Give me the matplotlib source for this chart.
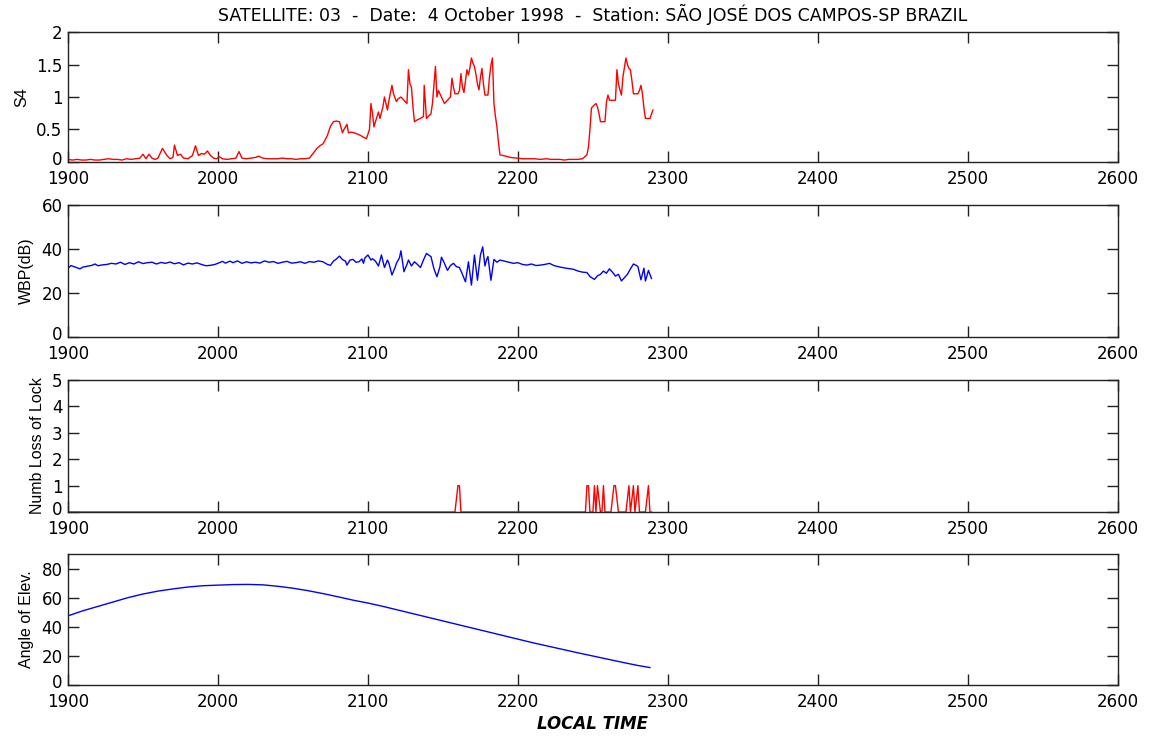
#!/usr/bin/python3
# Scintillation S4 / WBP / loss of lock / elevation, satellite 03, 4 Oct 1998

import numpy as np
import matplotlib.pyplot as plt
import matplotlib.transforms as mtransforms

plt.rcParams['font.family'] = ['DejaVu Sans']

# --- S4 index ---
s4_t = [1900, 1903, 1906, 1909, 1912, 1915, 1918, 1921, 1924, 1927, 1930, 1933, 1936, 1939,
        1942, 1945, 1948, 1950, 1952, 1954, 1956, 1958, 1960, 1963, 1966, 1968, 1970, 1971,
        1973, 1975, 1977, 1980, 1983, 1985, 1987, 1989, 1991, 1993, 1995, 1997, 1999, 2001,
        2003, 2006, 2009, 2012, 2014, 2016, 2019, 2022, 2025, 2027, 2030, 2033, 2036, 2040,
        2043, 2046, 2049, 2052, 2055, 2058, 2061, 2063, 2066, 2068, 2070, 2071, 2073, 2075,
        2077, 2079, 2081, 2083, 2084, 2086, 2087, 2089, 2092, 2095, 2097, 2099, 2101, 2102,
        2103, 2104, 2105, 2107, 2108, 2110, 2111, 2113, 2114, 2116, 2117, 2119, 2120, 2122,
        2124, 2126, 2127, 2128, 2129, 2130, 2131, 2133, 2135, 2137, 2137.5, 2139, 2141, 2142,
        2143, 2145, 2146, 2147, 2148, 2150, 2151, 2153, 2155, 2156, 2157, 2158, 2160, 2161,
        2162, 2163, 2164, 2166, 2167, 2168, 2169, 2170, 2171, 2172, 2173, 2174, 2175, 2176,
        2177, 2178, 2180, 2181, 2182, 2183, 2184, 2185, 2186, 2187, 2188, 2190, 2192, 2195,
        2199, 2203, 2207, 2211, 2215, 2219, 2222, 2225, 2228, 2231, 2234, 2237, 2240, 2243,
        2245, 2246, 2247, 2248, 2249, 2251, 2252, 2253, 2254, 2255, 2258, 2259, 2260, 2261,
        2263, 2265, 2266, 2267, 2268, 2269, 2270, 2271, 2272, 2273, 2274, 2275, 2276, 2277,
        2280, 2281, 2282, 2283, 2284, 2285, 2288, 2290]
s4_v = [0.04, 0.03, 0.04, 0.03, 0.03, 0.04, 0.03, 0.03, 0.04, 0.05, 0.04, 0.04, 0.03, 0.05,
        0.04, 0.05, 0.06, 0.12, 0.05, 0.12, 0.06, 0.04, 0.06, 0.21, 0.10, 0.05, 0.07, 0.26,
        0.10, 0.12, 0.06, 0.05, 0.10, 0.25, 0.10, 0.13, 0.12, 0.17, 0.10, 0.06, 0.05, 0.08,
        0.05, 0.04, 0.05, 0.06, 0.16, 0.06, 0.05, 0.06, 0.07, 0.09, 0.06, 0.05, 0.05, 0.05,
        0.06, 0.05, 0.05, 0.04, 0.05, 0.05, 0.06, 0.12, 0.21, 0.25, 0.28, 0.32, 0.41, 0.55,
        0.62, 0.63, 0.62, 0.45, 0.50, 0.58, 0.45, 0.46, 0.44, 0.41, 0.38, 0.36, 0.50, 0.90,
        0.75, 0.54, 0.62, 0.77, 0.67, 0.85, 1.00, 0.80, 0.95, 1.18, 1.05, 0.93, 0.97, 1.00,
        0.95, 0.90, 1.42, 1.20, 1.15, 0.85, 0.62, 0.65, 0.67, 0.70, 1.18, 0.67, 0.72, 0.74,
        0.90, 1.47, 1.00, 1.10, 1.05, 0.95, 0.90, 0.95, 1.00, 1.29, 1.15, 1.05, 1.05, 1.10,
        1.36, 1.15, 1.07, 1.42, 1.34, 1.45, 1.60, 1.52, 1.47, 1.35, 1.20, 1.11, 1.30, 1.44,
        1.20, 1.03, 1.03, 1.30, 1.49, 1.60, 0.90, 0.70, 0.54, 0.30, 0.11, 0.10, 0.09, 0.07,
        0.06, 0.05, 0.05, 0.05, 0.04, 0.05, 0.04, 0.04, 0.04, 0.03, 0.04, 0.04, 0.04, 0.05,
        0.09, 0.11, 0.23, 0.50, 0.83, 0.88, 0.90, 0.85, 0.75, 0.62, 0.62, 0.92, 1.03, 0.95,
        0.95, 0.95, 1.42, 1.20, 1.11, 1.03, 1.31, 1.45, 1.60, 1.50, 1.44, 1.42, 1.25, 1.05,
        1.05, 1.10, 1.18, 1.05, 0.83, 0.67, 0.67, 0.80]

# --- WBP (dB) ---
wbp_t = [1900, 1902, 1904, 1906, 1908, 1910, 1913, 1916, 1918, 1920, 1923, 1926, 1929, 1932,
         1935, 1938, 1941, 1944, 1947, 1950, 1953, 1956, 1959, 1962, 1965, 1968, 1971, 1974,
         1977, 1980, 1983, 1986, 1989, 1992, 1995, 1998, 2001, 2003, 2005, 2008, 2010, 2013,
         2016, 2019, 2022, 2025, 2028, 2031, 2034, 2037, 2040, 2043, 2046, 2049, 2052, 2055,
         2058, 2061, 2064, 2067, 2070, 2073, 2075, 2077, 2079, 2081, 2083, 2085, 2086, 2088,
         2090, 2092, 2094, 2096, 2097, 2098, 2100, 2102, 2103, 2105, 2107, 2109, 2111, 2113,
         2114, 2116, 2118, 2119, 2121, 2122, 2124, 2126, 2127, 2129, 2131, 2133, 2135, 2137,
         2139, 2141, 2142, 2144, 2146, 2148, 2149, 2151, 2153, 2155, 2157, 2159, 2161, 2163,
         2165, 2167, 2169, 2171, 2173, 2175, 2176.5, 2178, 2179, 2180, 2182, 2184, 2186, 2188,
         2191, 2194, 2197, 2200, 2203, 2206, 2209, 2212, 2215, 2218, 2221, 2224, 2228, 2232,
         2237, 2240, 2243, 2246, 2248, 2251, 2253, 2255, 2257, 2259, 2261, 2263, 2265, 2267,
         2269, 2271, 2273, 2275, 2277, 2279, 2280, 2282, 2284, 2285, 2287, 2289]
wbp_v = [31.2, 32.5, 32.0, 31.5, 31.0, 31.8, 32.2, 32.6, 33.2, 32.4, 32.8, 33.0, 33.5, 33.2,
         34.0, 33.0, 33.8, 33.2, 34.2, 33.4, 33.8, 34.0, 33.2, 33.9, 33.5, 34.1, 33.3, 33.8,
         32.8, 33.6, 33.2, 33.7, 33.0, 32.4, 32.6, 33.0, 33.8, 34.4, 33.6, 34.5, 33.8, 34.6,
         33.5, 34.2, 33.7, 34.0, 33.6, 34.6, 34.0, 34.3, 33.5, 34.0, 34.4, 33.6, 33.8, 34.2,
         33.5, 34.3, 34.0, 34.6, 34.2, 33.0, 32.6, 34.5, 35.5, 36.8, 35.2, 34.5, 32.7, 35.0,
         35.3, 34.0, 34.2, 35.5, 33.5, 36.0, 37.3, 35.0, 35.6, 34.5, 32.3, 37.3, 31.6, 35.0,
         33.5, 28.2, 31.5, 33.5, 36.0, 39.2, 29.7, 33.0, 35.0, 32.3, 34.2, 33.0, 31.6, 35.0,
         38.0, 37.0, 36.6, 31.0, 27.4, 32.0, 36.3, 33.5, 30.3, 32.5, 33.5, 32.0, 31.6, 28.5,
         25.1, 34.2, 23.6, 37.3, 25.8, 37.3, 41.0, 32.3, 35.0, 36.6, 25.8, 35.3, 34.0, 35.0,
         34.5, 34.0, 33.5, 33.8, 33.0, 32.7, 33.2, 32.5, 32.7, 33.0, 33.5, 32.5, 31.8, 31.3,
         30.8, 30.0, 29.5, 29.3, 27.5, 26.2, 27.8, 28.5, 30.0, 29.0, 31.0, 29.5, 27.7, 28.5,
         25.5, 27.0, 28.5, 31.0, 33.2, 32.5, 32.0, 26.0, 31.3, 25.5, 30.3, 26.6]

# --- number of losses of lock ---
lock_t = [1900, 2158, 2160, 2161, 2162, 2163, 2245, 2246, 2247, 2248, 2250, 2251, 2252, 2253,
          2255, 2256, 2257, 2258, 2260, 2262, 2264, 2265, 2267, 2272, 2274, 2275, 2277, 2278,
          2280, 2281, 2283, 2285, 2287, 2288, 2289]
lock_v = [0, 0, 1, 1, 0, 0, 0, 1, 1, 0, 0, 1, 0, 1,
          0, 0, 1, 0, 0, 0, 1, 1, 0, 0, 1, 0, 1, 0,
          1, 0, 0, 0, 1, 0, 0]

# --- elevation angle (deg) ---
elev_t = [1900, 1910, 1920, 1930, 1940, 1950, 1960, 1970, 1980, 1990, 2000, 2010, 2020, 2030,
          2040, 2050, 2060, 2070, 2080, 2090, 2100, 2110, 2120, 2130, 2140, 2150, 2160, 2170,
          2180, 2190, 2200, 2210, 2220, 2230, 2240, 2250, 2260, 2270, 2280, 2288]
elev_v = [47.5, 51.0, 54.0, 57.0, 60.0, 62.5, 64.5, 66.0, 67.3, 68.2, 68.6, 69.0, 69.1, 68.8,
          67.8, 66.5, 64.8, 62.8, 60.6, 58.3, 56.3, 54.0, 51.5, 49.0, 46.5, 44.0, 41.5, 39.0,
          36.5, 34.0, 31.5, 29.0, 26.7, 24.4, 22.1, 19.9, 17.7, 15.5, 13.4, 12.0]

xticks = [1900, 2000, 2100, 2200, 2300, 2400, 2500, 2600]

fig = plt.figure(figsize=(11.5, 7.36), dpi=100)

panels = [
    (0.7799, 0.1766, s4_t, s4_v, 'red', 'S4', (0, 2), [0, 0.5, 1, 1.5, 2], ['0', '0.5', '1', '1.5', '2']),
    (0.5421, 0.1793, wbp_t, wbp_v, 'blue', 'WBP(dB)', (0, 60), [0, 20, 40, 60], None),
    (0.3043, 0.1793, lock_t, lock_v, 'red', 'Numb Loss of Lock', (0, 5), [0, 1, 2, 3, 4, 5], None),
    (0.0693, 0.1780, elev_t, elev_v, 'blue', 'Angle of Elev.', (0, 90), [0, 20, 40, 60, 80], None),
]

# nudge the "0" y label up a little so it does not sit on "1900"
lift = mtransforms.ScaledTranslation(0, 3 / 72, fig.dpi_scale_trans)

axes = []
for bottom, height, t, v, col, lab, ylim, yt, ytl in panels:
    ax = fig.add_axes([0.0591, bottom, 0.913, height])
    ax.plot(t, v, color=col, linewidth=1.0)
    ax.set_xlim(1900, 2600)
    ax.set_ylim(*ylim)
    ax.set_xticks(xticks)
    ax.set_yticks(yt)
    if ytl is not None:
        ax.set_yticklabels(ytl)
    ax.tick_params(direction='in', top=True, right=True, length=8, width=1,
                   labelsize=12, pad=4, colors='#222222', labelcolor='black')
    ax.tick_params(axis='x', pad=6)
    for s in ax.spines.values():
        s.set_linewidth(1.0)
        s.set_color('#222222')
    ax.set_ylabel(lab, fontsize=11.5, labelpad=5, family='Liberation Sans')
    lbl0 = ax.yaxis.get_major_ticks()[0].label1
    lbl0.set_transform(lbl0.get_transform() + lift)
    axes.append(ax)

axes[0].set_title('SATELLITE: 03  -  Date:  4 October 1998  -  Station: SÃO JOSÉ DOS CAMPOS-SP BRAZIL',
                  fontsize=12.5, pad=8)
axes[-1].set_xlabel('LOCAL TIME', fontsize=12, fontweight='bold', fontstyle='italic', labelpad=3)

fig.savefig('out.png', dpi=100)
